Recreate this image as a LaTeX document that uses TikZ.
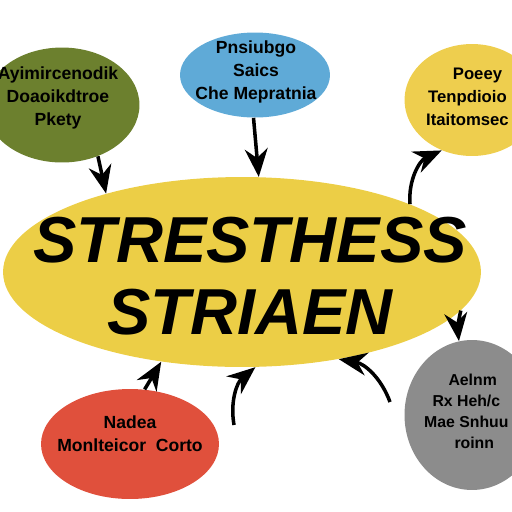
\documentclass[tikz,border=0pt]{standalone}
\usepackage{fontspec}
\setmainfont{Liberation Sans}
\usetikzlibrary{shapes.geometric,arrows.meta}

\definecolor{olivegreen}{RGB}{108,128,46}
\definecolor{skyblue}{RGB}{95,170,215}
\definecolor{paleyellow}{RGB}{238,206,78}
\definecolor{mainyellow}{RGB}{236,206,70}
\definecolor{tomatored}{RGB}{224,80,60}
\definecolor{stonegray}{RGB}{140,140,140}

\tikzset{
  blob/.style={ellipse, inner sep=0pt},
  blobtext/.style={align=center, font=\bfseries\fontsize{10}{13}\selectfont},
  arr/.style={-{Stealth[length=16pt,width=13pt]}, line width=2pt, black},
}

\begin{document}
\begin{tikzpicture}[x=0.02cm,y=-0.02cm]
  \useasboundingbox (0,0) rectangle (512,512);
  % bubbles
  \node[blob, fill=olivegreen, minimum width=3.1cm, minimum height=2.3cm] (green) at (62,105) {};
  \node[blob, fill=skyblue, minimum width=3.0cm, minimum height=1.7cm] (blue) at (255,75) {};
  \node[blob, fill=paleyellow, minimum width=2.7cm, minimum height=2.24cm] (pyellow) at (472,100) {};
  \node[blob, fill=mainyellow, minimum width=9.56cm, minimum height=3.8cm] (main) at (242,272) {};
  \node[blob, fill=tomatored, minimum width=3.56cm, minimum height=2.2cm] (red) at (130,444) {};
  \node[blob, fill=stonegray, minimum width=2.7cm, minimum height=3.0cm] (gray) at (472,415) {};
  % texts
  \node[blobtext] (greentext) at (58,98) {Ayimircenodik\\Doaoikdtroe\\Pkety};
  \node[blobtext] (bluetext) at (256,72) {Pnsiubgo\\Saics\\Che Mepratnia};
  \node[blobtext, anchor=west, font=\bfseries\fontsize{9.5}{13}\selectfont] (pyellowtext) at (420,97) {\hspace*{1.2em}Poeey\\Tenpdioio\\Itaitomsec};
  \node[align=center, font=\bfseries\itshape\fontsize{37}{41}\selectfont] (maintext) at (250,276) {STRESTHESS\\STRIAEN};
  \node[blobtext] (redtext) at (130,434) {Nadea\\Monlteicor\ \ Corto};
  \node[blobtext, anchor=west, font=\bfseries\fontsize{9}{12}\selectfont] (graytext) at (418,411) {\hspace*{0.8em}Aelnm\\Rx Heh/c\\Mae Snhuu\\\hspace*{1em}roinn};
  % arrows
  \coordinate (midfoot) at (234,425);
  \coordinate (rightfoot) at (390,402);
  \draw[arr] (green.-55) -- (main.150);
  \draw[arr] (blue.-92) -- (main.80);
  \draw[arr] (main.22) to[bend left=35] (pyellow.-121);
  \draw[arr] (main.-10) to[bend right=10] (gray.100);
  \draw[arr] (rightfoot) to[bend right=30] (main.-42);
  \draw[arr] (midfoot) to[bend left=30] (main.-82);
  \draw[arr] (red.75) -- (main.-132);
\end{tikzpicture}
\end{document}
